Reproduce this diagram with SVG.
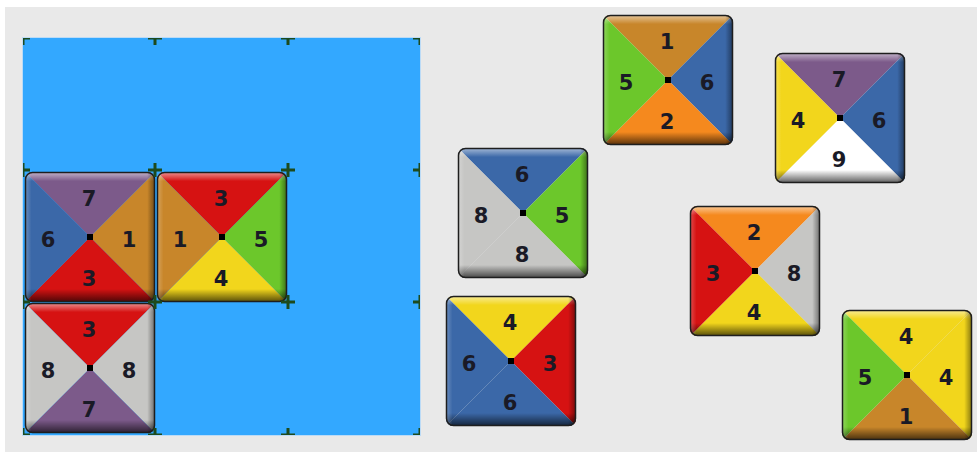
<svg xmlns="http://www.w3.org/2000/svg" xmlns:xlink="http://www.w3.org/1999/xlink" width="977" height="452" viewBox="0 0 977 452">
<style>
.c1{fill:#c8862a}.c2{fill:#f5891e}.c3{fill:#d61212}.c4{fill:#f2d61c}.c5{fill:#6cc72b}.c6{fill:#3b68a8}.c7{fill:#7c5a8a}.c8{fill:#c6c6c4}.c9{fill:#ffffff}
.n{font-family:"DejaVu Sans","Liberation Sans",sans-serif;font-weight:bold;font-size:21px;fill:#1a1a26;text-anchor:middle}
.tick{stroke:#1d4a1d;stroke-width:3;fill:none}
</style>
<defs>
<clipPath id="tc"><rect x="0" y="0" width="130" height="130" rx="7"/></clipPath>
<clipPath id="bc"><rect x="23" y="38" width="397" height="397"/></clipPath>
<linearGradient id="gv" x1="0" y1="0" x2="0" y2="1">
<stop offset="0" stop-color="#fff" stop-opacity="0.55"/>
<stop offset="0.07" stop-color="#fff" stop-opacity="0"/>
<stop offset="0.9" stop-color="#000" stop-opacity="0"/>
<stop offset="1" stop-color="#000" stop-opacity="0.65"/>
</linearGradient>
<linearGradient id="gh" x1="0" y1="0" x2="1" y2="0">
<stop offset="0" stop-color="#fff" stop-opacity="0.25"/>
<stop offset="0.05" stop-color="#fff" stop-opacity="0"/>
<stop offset="0.94" stop-color="#000" stop-opacity="0"/>
<stop offset="1" stop-color="#000" stop-opacity="0.45"/>
</linearGradient>
<g id="bevel">
<rect x="0" y="0" width="130" height="130" rx="7" fill="url(#gv)"/>
<rect x="0" y="0" width="130" height="130" rx="7" fill="url(#gh)"/>
<rect x="0.5" y="0.5" width="129" height="129" rx="7" fill="none" stroke="#1e1e1e" stroke-width="1.5"/>
<rect x="62" y="62" width="6" height="6" fill="#000"/>
</g>
</defs>
<rect width="977" height="452" fill="#ffffff"/>
<rect x="5" y="7" width="972" height="445" fill="#e9e9e9"/>

<g id="board">
<rect x="22" y="37" width="399" height="399" fill="#9fd2ff" opacity="0.6"/>
<rect x="23" y="38" width="397" height="397" fill="#33a8ff"/>
</g>

<g id="connectors"></g>

<g id="tile-board-1" transform="translate(25,172)">
<g clip-path="url(#tc)">
<polygon class="c7" points="0,0 130,0 65,65"/><polygon class="c1" points="130,0 130,130 65,65"/><polygon class="c3" points="0,130 130,130 65,65"/><polygon class="c6" points="0,0 0,130 65,65"/>
</g>
<use href="#bevel"/>
<text class="n" x="64" y="34">7</text><text class="n" x="104" y="75">1</text><text class="n" x="64" y="114">3</text><text class="n" x="23" y="75">6</text>
</g>

<g id="tile-board-2" transform="translate(157,172)">
<g clip-path="url(#tc)">
<polygon class="c3" points="0,0 130,0 65,65"/><polygon class="c5" points="130,0 130,130 65,65"/><polygon class="c4" points="0,130 130,130 65,65"/><polygon class="c1" points="0,0 0,130 65,65"/>
</g>
<use href="#bevel"/>
<text class="n" x="64" y="34">3</text><text class="n" x="104" y="75">5</text><text class="n" x="64" y="114">4</text><text class="n" x="23" y="75">1</text>
</g>

<g id="tile-board-3" transform="translate(25,303)">
<g clip-path="url(#tc)">
<polygon class="c3" points="0,0 130,0 65,65"/><polygon class="c8" points="130,0 130,130 65,65"/><polygon class="c7" points="0,130 130,130 65,65"/><polygon class="c8" points="0,0 0,130 65,65"/>
</g>
<use href="#bevel"/>
<text class="n" x="64" y="34">3</text><text class="n" x="104" y="75">8</text><text class="n" x="64" y="114">7</text><text class="n" x="23" y="75">8</text>
</g>

<g id="grid-ticks" clip-path="url(#bc)" class="tick">
<path d="M16,38h14M23,31v14M148,38h14M155,31v14M281,38h14M288,31v14M413,38h14M420,31v14"/>
<path d="M16,170h14M23,163v14M148,170h14M155,163v14M281,170h14M288,163v14M413,170h14M420,163v14"/>
<path d="M16,302h14M23,295v14M148,302h14M155,295v14M281,302h14M288,295v14M413,302h14M420,295v14"/>
<path d="M16,435h14M23,428v14M148,435h14M155,428v14M281,435h14M288,428v14M413,435h14M420,428v14"/>
</g>

<g id="tile-a" transform="translate(603,15)">
<g clip-path="url(#tc)">
<polygon class="c1" points="0,0 130,0 65,65"/><polygon class="c6" points="130,0 130,130 65,65"/><polygon class="c2" points="0,130 130,130 65,65"/><polygon class="c5" points="0,0 0,130 65,65"/>
</g>
<use href="#bevel"/>
<text class="n" x="64" y="34">1</text><text class="n" x="104" y="75">6</text><text class="n" x="64" y="114">2</text><text class="n" x="23" y="75">5</text>
</g>

<g id="tile-b" transform="translate(775,53)">
<g clip-path="url(#tc)">
<polygon class="c7" points="0,0 130,0 65,65"/><polygon class="c6" points="130,0 130,130 65,65"/><polygon class="c9" points="0,130 130,130 65,65"/><polygon class="c4" points="0,0 0,130 65,65"/>
</g>
<use href="#bevel"/>
<text class="n" x="64" y="34">7</text><text class="n" x="104" y="75">6</text><text class="n" x="64" y="114">9</text><text class="n" x="23" y="75">4</text>
</g>

<g id="tile-c" transform="translate(458,148)">
<g clip-path="url(#tc)">
<polygon class="c6" points="0,0 130,0 65,65"/><polygon class="c5" points="130,0 130,130 65,65"/><polygon class="c8" points="0,130 130,130 65,65"/><polygon class="c8" points="0,0 0,130 65,65"/>
</g>
<use href="#bevel"/>
<text class="n" x="64" y="34">6</text><text class="n" x="104" y="75">5</text><text class="n" x="64" y="114">8</text><text class="n" x="23" y="75">8</text>
</g>

<g id="tile-d" transform="translate(446,296)">
<g clip-path="url(#tc)">
<polygon class="c4" points="0,0 130,0 65,65"/><polygon class="c3" points="130,0 130,130 65,65"/><polygon class="c6" points="0,130 130,130 65,65"/><polygon class="c6" points="0,0 0,130 65,65"/>
</g>
<use href="#bevel"/>
<text class="n" x="64" y="34">4</text><text class="n" x="104" y="75">3</text><text class="n" x="64" y="114">6</text><text class="n" x="23" y="75">6</text>
</g>

<g id="tile-e" transform="translate(690,206)">
<g clip-path="url(#tc)">
<polygon class="c2" points="0,0 130,0 65,65"/><polygon class="c8" points="130,0 130,130 65,65"/><polygon class="c4" points="0,130 130,130 65,65"/><polygon class="c3" points="0,0 0,130 65,65"/>
</g>
<use href="#bevel"/>
<text class="n" x="64" y="34">2</text><text class="n" x="104" y="75">8</text><text class="n" x="64" y="114">4</text><text class="n" x="23" y="75">3</text>
</g>

<g id="tile-f" transform="translate(842,310)">
<g clip-path="url(#tc)">
<polygon class="c4" points="0,0 130,0 65,65"/><polygon class="c4" points="130,0 130,130 65,65"/><polygon class="c1" points="0,130 130,130 65,65"/><polygon class="c5" points="0,0 0,130 65,65"/>
</g>
<use href="#bevel"/>
<text class="n" x="64" y="34">4</text><text class="n" x="104" y="75">4</text><text class="n" x="64" y="114">1</text><text class="n" x="23" y="75">5</text>
</g>
</svg>
